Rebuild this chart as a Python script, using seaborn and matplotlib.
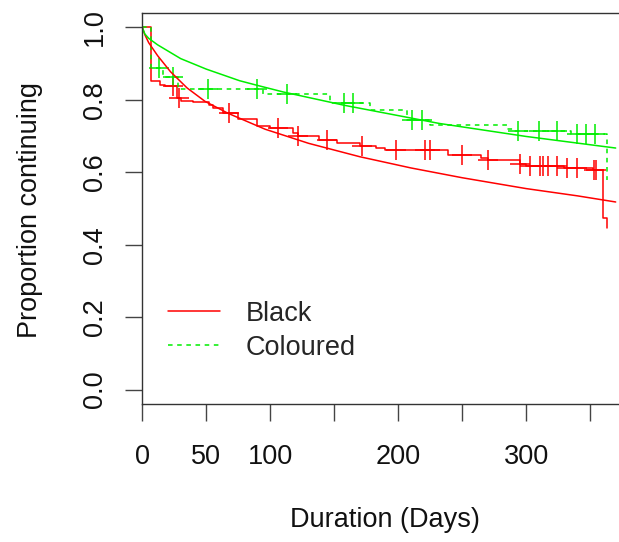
import numpy as np
import pandas as pd
import seaborn as sns
import matplotlib.pyplot as plt

# Kaplan-Meier steps (days, proportion continuing)
black_t = [0, 7, 14, 18, 27, 30, 40, 52, 55, 63, 75, 90, 100, 118, 122, 138, 152,
           170, 183, 190, 239, 265, 270, 295, 300, 330, 352, 360, 363]
black_s = [1.0, 0.851, 0.842, 0.837, 0.804, 0.797, 0.793, 0.786, 0.777, 0.765, 0.748,
           0.728, 0.722, 0.708, 0.700, 0.690, 0.681, 0.674, 0.667, 0.661, 0.648, 0.640,
           0.633, 0.624, 0.618, 0.611, 0.605, 0.475, 0.445]
black_cens = [24, 29, 68, 106, 122, 144, 172, 198, 221, 225, 250, 270, 295, 303, 311,
              313, 317, 324, 332, 340, 353, 355]

col_t = [0, 7, 16, 28, 94, 147, 178, 207, 225, 285, 290, 335, 363]
col_s = [1.0, 0.887, 0.864, 0.831, 0.815, 0.792, 0.772, 0.745, 0.73, 0.72, 0.714,
         0.706, 0.58]
col_cens = [13, 24, 51, 90, 113, 158, 165, 211, 219, 294, 310, 324, 340, 347, 354]

# fitted (smooth) curves
black_fit_t = [0, 2, 5, 12, 22, 35, 49, 67, 96, 130, 170, 210, 250, 300, 340, 370]
black_fit_s = [1.0, 0.98, 0.958, 0.922, 0.878, 0.833, 0.796, 0.763, 0.719, 0.68,
               0.643, 0.612, 0.585, 0.555, 0.535, 0.518]
col_fit_t = [0, 2, 5, 12, 30, 50, 76, 90, 110, 158, 232, 300, 370]
col_fit_s = [1.0, 0.982, 0.97, 0.952, 0.914, 0.885, 0.853, 0.84, 0.822, 0.785,
             0.735, 0.699, 0.667]

RED = "#ff0000"
GREEN = "#00ee00"
FS = 19.5

sns.set_style("ticks")
plt.rcParams["font.family"] = ["Liberation Sans", "DejaVu Sans"]
plt.rcParams["font.size"] = FS

fig = plt.figure(figsize=(6.19, 5.42), dpi=100)
ax = fig.add_axes([142.3 / 619, 138 / 542, 476.7 / 619, 391 / 542])


def step_at(ts, ss, t):
    i = np.searchsorted(ts, t, side="right") - 1
    return np.array(ss)[i]


km_black = pd.DataFrame({"t": black_t, "s": black_s})
km_col = pd.DataFrame({"t": col_t, "s": col_s})

sns.lineplot(data=km_black, x="t", y="s", ax=ax, color=RED, lw=1.1,
             drawstyle="steps-post", label="Black")
sns.lineplot(data=km_col, x="t", y="s", ax=ax, color=GREEN, lw=1.1,
             drawstyle="steps-post", linestyle=(0, (3, 3)), label="Coloured")

sns.lineplot(x=black_fit_t, y=black_fit_s, ax=ax, color=RED, lw=1.1)
sns.lineplot(x=col_fit_t, y=col_fit_s, ax=ax, color=GREEN, lw=1.1)

sns.scatterplot(x=black_cens, y=step_at(black_t, black_s, black_cens), ax=ax,
                marker="+", s=200, color=RED, linewidth=1.1)
sns.scatterplot(x=col_cens, y=step_at(col_t, col_s, col_cens), ax=ax,
                marker="+", s=200, color=GREEN, linewidth=1.1)

ax.set_xlim(0, 372.6)
ax.set_ylim(-0.04, 1.04)
ax.set_xticks(np.arange(0, 351, 50))
ax.set_xticklabels(["0", "50", "100", "", "200", "", "300", ""])
ax.set_yticks(np.arange(0, 1.01, 0.2))
ax.set_yticklabels(["0.0", "0.2", "0.4", "0.6", "0.8", "1.0"], rotation=90, va="center")
ax.tick_params(length=12, width=1, color="#444444", labelsize=FS, labelcolor="#111111")
ax.tick_params(axis="x", pad=17)
ax.tick_params(axis="y", pad=12.7)

for side in ["left", "bottom", "top"]:
    ax.spines[side].set_color("#333333")
    ax.spines[side].set_linewidth(1.0)
ax.spines["right"].set_visible(False)

ax.set_xlabel("Duration (Days)", fontsize=FS, color="#111111", va="center")
ax.set_ylabel("Proportion continuing", fontsize=FS, color="#111111", va="center")
ax.xaxis.set_label_coords(0.509, -0.297)
ax.yaxis.set_label_coords(-0.2356, 0.496)

ax.legend(loc="upper left", bbox_to_anchor=(0.054, 0.2645), frameon=False,
          borderaxespad=0, borderpad=0, handlelength=1.93, handletextpad=0.93,
          labelspacing=0.31, fontsize=FS)

fig.savefig("out.png", dpi=100)
